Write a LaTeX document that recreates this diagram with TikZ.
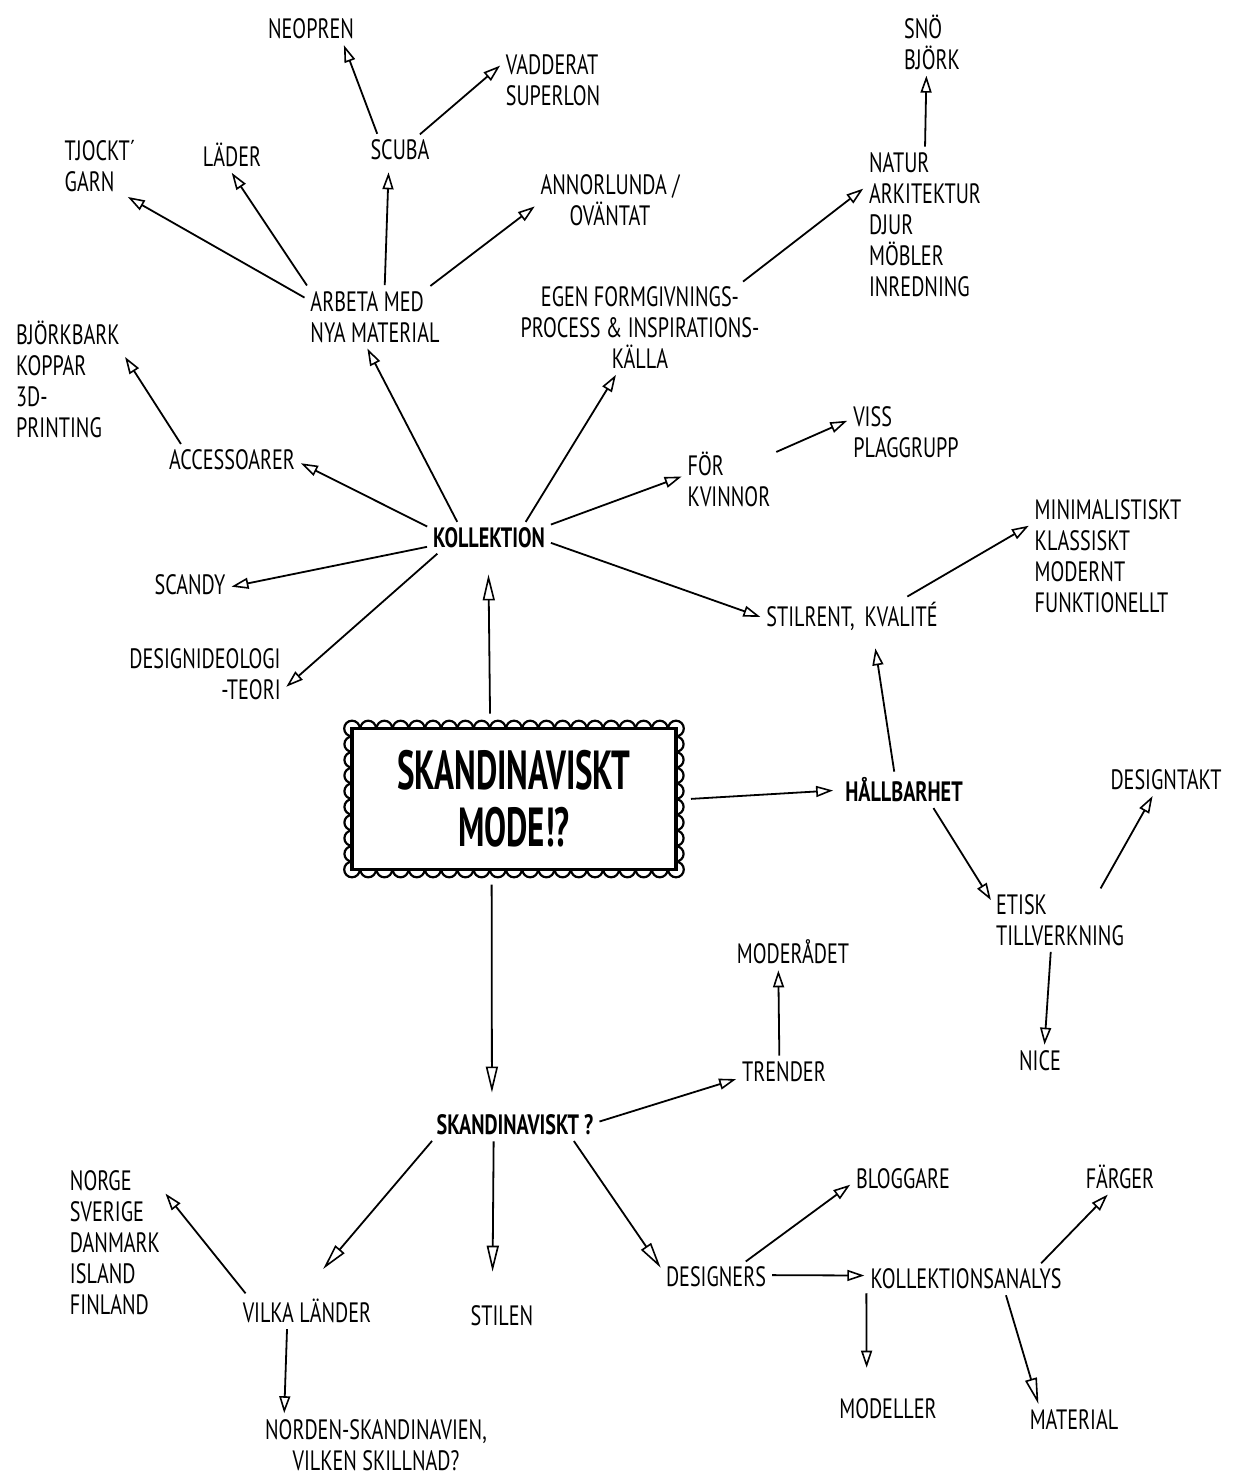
\documentclass[tikz,border=0pt]{standalone}
\usepackage{fontspec}
\setmainfont{PT Sans}[FakeStretch=0.72]
\newfontfamily\titlefont{PT Sans}[FakeStretch=0.6]
\usetikzlibrary{arrows.meta,calc}
\pgfdeclarelayer{background}
\pgfsetlayers{background,main}
\begin{document}
\begin{tikzpicture}[x=1pt,y=-1pt,
  lbl/.style={inner sep=4pt, font=\fontsize{28}{31}\selectfont, align=left},
  bld/.style={lbl, font=\fontsize{28}{31}\selectfont\bfseries},
  arr/.style={line width=1.8pt, -{Triangle[open,length=17pt,width=11pt,line width=1.6pt]}, shorten >=2pt, shorten <=2pt},
  bigarr/.style={arr, -{Triangle[open,length=26pt,width=12pt,line width=1.6pt]}},
  scal/.style={line width=2.2pt},
  titlebox/.style={minimum width=324pt, minimum height=141pt, inner sep=0pt, outer sep=13pt, align=center,
     font=\titlefont\bfseries\fontsize{55}{57}\selectfont}
]
\useasboundingbox (0,0) rectangle (1233,1481);

% nodes
\node[lbl] (neo) at (311,29) {NEOPREN};
\node[lbl] (vad) at (553,80) {VADDERAT\\SUPERLON};
\node[lbl] (scuba) at (400,150) {SCUBA};
\node[lbl] (tjo) at (100,166) {TJOCKT´\\GARN};
\node[lbl] (lad) at (232,155) {LÄDER};
\node[lbl, align=center] (ann) at (610,200) {ANNORLUNDA /\\OVÄNTAT};
\node[lbl] (arb) at (375,317) {ARBETA MED\\NYA MATERIAL};
\node[lbl, align=center] (egen) at (640,328) {EGEN FORMGIVNINGS-\\PROCESS \& INSPIRATIONS-\\KÄLLA};
\node[lbl] (nat) at (925,225) {NATUR\\ARKITEKTUR\\DJUR\\MÖBLER\\INREDNING};
\node[lbl] (sno) at (932,42) {SNÖ\\BJÖRK};
\node[lbl] (bjo) at (68,379) {BJÖRKBARK\\KOPPAR\\3D-\\PRINTING};
\node[lbl] (acc) at (232,460) {ACCESSOARER};
\node[bld] (kol) at (489,538) {KOLLEKTION};
\node[lbl] (fkv) at (729,479) {FÖR\\KVINNOR};
\node[lbl] (viss) at (906,432) {VISS\\PLAGGRUPP};
\node[lbl] (scandy) at (190,585) {SCANDY};
\node[lbl, align=right] (dideo) at (205,674) {DESIGNIDEOLOGI\\-TEORI};
\node[titlebox] (main) at (514,799) {SKANDINAVISKT\\MODE!?};
\node[lbl] (stil) at (852,616) {STILRENT,\, KVALITÉ};
\node[lbl] (mini) at (1108,556) {MINIMALISTISKT\\KLASSISKT\\MODERNT\\FUNKTIONELLT};
\node[bld] (hall) at (904,790) {HÅLLBARHET};
\node[lbl] (etisk) at (1060,920) {ETISK\\TILLVERKNING};
\node[lbl] (dtakt) at (1166,780) {DESIGNTAKT};
\node[lbl] (nice) at (1040,1061) {NICE};
\node[bld] (skq) at (515,1125) {SKANDINAVISKT ?};
\node[lbl] (trend) at (784,1072) {TRENDER};
\node[lbl] (mrad) at (793,952) {MODERÅDET};
\node[lbl] (vilka) at (307,1311) {VILKA LÄNDER};
\node[lbl] (land) at (115,1243) {NORGE\\SVERIGE\\DANMARK\\ISLAND\\FINLAND};
\node[lbl, align=center] (norden) at (376,1445) {NORDEN-SKANDINAVIEN,\\VILKEN SKILLNAD?};
\node[lbl] (stilen) at (502,1316) {STILEN};
\node[lbl] (desig) at (716,1277) {DESIGNERS};
\node[lbl] (blog) at (903,1179) {BLOGGARE};
\node[lbl] (kana) at (966,1279) {KOLLEKTIONSANALYS};
\node[lbl] (farg) at (1120,1177) {FÄRGER};
\node[lbl] (mod) at (888,1409) {MODELLER};
\node[lbl] (mat) at (1074,1420) {MATERIAL};

% scalloped frame
\begin{pgfonlayer}{background}
  \coordinate (sNW) at ($(main.north west)+(13,13)$);
  \coordinate (sSE) at ($(main.south east)+(-13,-13)$);
  \foreach \i in {0,...,20} {
    \draw[scal] ($(sNW)+(\i*16.2,0)$) circle[radius=7.8];
    \draw[scal] ($(sNW)+(\i*16.2,141)$) circle[radius=7.8];
  }
  \foreach \j in {1,...,8} {
    \draw[scal] ($(sNW)+(0,\j*15.67)$) circle[radius=7.6];
    \draw[scal] ($(sNW)+(324,\j*15.67)$) circle[radius=7.6];
  }
  \draw[line width=3.8pt, fill=white] (sNW) rectangle (sSE);
\end{pgfonlayer}

% connectors
\draw[arr] (scuba.147) -- (neo.-24);
\draw[arr] (scuba.38) -- (vad.163);
\draw[arr] (arb.165) -- (tjo.-49);
\draw[arr] (arb.156) -- (lad.-95);
\draw[arr, shorten >=8pt] (arb.72) -- (scuba.-128);
\draw[arr] (arb.29) -- (ann.184);
\draw[arr] (kol.155) -- (arb.-106);
\draw[arr] (kol.22) -- (egen.-117);
\draw[arr] (egen.24) -- (nat.148);
\draw[arr] (nat.90) -- (sno.-100);
\draw[arr] (acc.164) -- (bjo.23);
\draw[arr] (kol.170) -- (acc.-2);
\draw[arr] (kol.12) -- (fkv.176);
\draw[arr] (fkv.30) -- (viss.168);
\draw[arr] (kol.188) -- (scandy.-3);
\draw[arr] (kol.196) -- (dideo.-10);
\draw[bigarr, shorten >=22pt] (main.106) -- (kol.-93);
\draw[arr] (kol.-4) -- (stil.181);
\draw[arr] (stil.19) -- (mini.158);
\draw[arr, shorten >=14pt] (hall.120) -- (stil.-41);
\draw[arr, shorten >=8pt] (main.0) -- (hall.180);
\draw[arr] (hall.-30) -- (etisk.165);
\draw[arr] (etisk.37) -- (dtakt.-131);
\draw[arr] (etisk.-107) -- (nice.73);
\draw[bigarr, shorten >=18pt] (main.-105) -- (skq.148);
\draw[arr] (skq.2) -- (trend.188);
\draw[arr] (trend.108) -- (mrad.-132);
\draw[bigarr, shorten >=34pt] (skq.190) -- (vilka.110);
\draw[bigarr, shorten >=30pt] (skq.-146) -- (stilen.124);
\draw[bigarr] (skq.-14) -- (desig.172);
\draw[arr] (vilka.165) -- (land.46);
\draw[arr] (vilka.-141) -- (norden.162);
\draw[arr] (desig.27) -- (blog.185);
\draw[arr] (desig.2) -- (kana.178.5);
\draw[arr] (kana.11) -- (farg.-124);
\draw[arr, shorten >=27pt] (kana.-173) -- (mod.146);
\draw[bigarr] (kana.-20) -- (mat.158);
\end{tikzpicture}
\end{document}
